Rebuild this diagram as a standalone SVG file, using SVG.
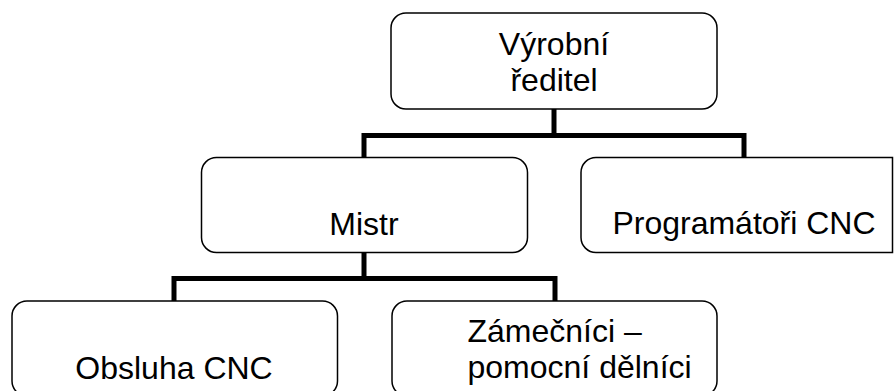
<svg xmlns="http://www.w3.org/2000/svg" width="894" height="391" viewBox="0 0 894 391">
<style>
.box{fill:#fff;stroke:#000;stroke-width:1.5}
.lbl{font-family:"Liberation Sans",Arial,sans-serif;font-size:32px;fill:#000}
.c{text-anchor:middle}
.con{fill:none;stroke:#000;stroke-width:5;stroke-linecap:butt;stroke-linejoin:miter}
</style>
<rect width="894" height="391" fill="#fff"/>
<g id="connectors">
<path class="con" d="M554,109 V135.5 H364 V159 M554,135.5 H744 V159"/>
<path class="con" d="M364,252 V278.5 H174 V302 M364,278.5 H555 V302"/>
</g>
<g id="n-vyrobni">
<rect class="box" x="391" y="13" width="326" height="96" rx="15"/>
<text class="lbl c" x="554" y="55">Výrobní</text>
<text class="lbl c" x="554" y="91">ředitel</text>
</g>
<g id="n-mistr">
<rect class="box" x="201.5" y="157.5" width="326" height="95" rx="15"/>
<text class="lbl c" x="364" y="235">Mistr</text>
</g>
<g id="n-programatori">
<path class="box" d="M596,157.5 H892.5 V252.5 H596 A15,15 0 0 1 581,237.5 V172.5 A15,15 0 0 1 596,157.5 Z"/>
<text class="lbl c" x="744" y="234">Programátoři CNC</text>
</g>
<g id="n-obsluha">
<rect class="box" x="12" y="301" width="325.5" height="95" rx="15"/>
<text class="lbl c" x="174" y="379">Obsluha CNC</text>
</g>
<g id="n-zamecnici">
<rect class="box" x="392" y="301" width="325" height="95" rx="15"/>
<text class="lbl" x="467.5" y="342">Zámečníci –</text>
<text class="lbl" x="467.5" y="378">pomocní dělníci</text>
</g>
</svg>
